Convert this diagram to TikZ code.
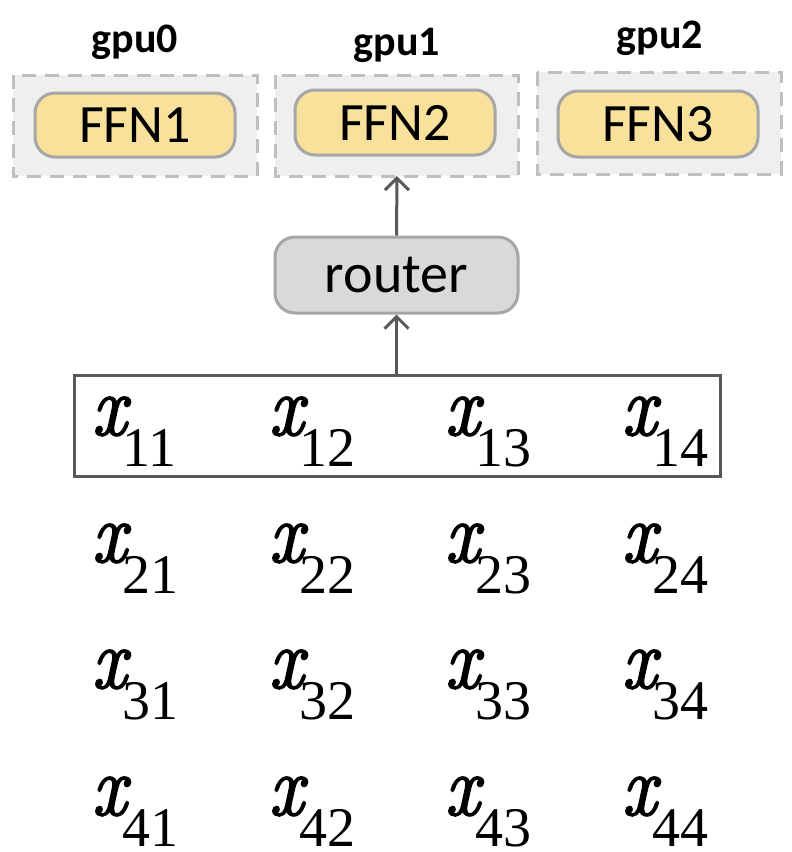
\documentclass[tikz,border=0pt]{standalone}
\usepackage{fontspec}
\setmainfont{Liberation Serif}
\newfontfamily\calib{Carlito}
\newfontfamily\lmr[FakeBold=2.2,FakeStretch=0.88]{Latin Modern Roman}
\usetikzlibrary{arrows.meta}
\definecolor{gpufill}{HTML}{EFEFEF}
\definecolor{gpuline}{HTML}{BFBFBF}
\definecolor{ffnfill}{HTML}{F8E29B}
\definecolor{boxline}{HTML}{A6A6A6}
\definecolor{routerfill}{HTML}{D9D9D9}
\definecolor{darkline}{HTML}{595959}
\newcommand{\xent}[2]{{\lmr\itshape\fontsize{86}{86}\selectfont x}\kern-4pt\raisebox{-31pt}{\fontsize{56}{56}\selectfont #1#2}}
\tikzset{
  gpubox/.style={draw=gpuline, fill=gpufill, line width=3pt, dash pattern=on 14pt off 9pt},
  ffnbox/.style={draw=boxline, fill=ffnfill, line width=3pt, rounded corners=20pt},
  routerbox/.style={draw=boxline, fill=routerfill, line width=3pt, rounded corners=20pt},
  gpulabel/.style={font=\calib\bfseries\fontsize{42}{42}\selectfont},
  ffnlabel/.style={font=\calib\fontsize{54}{54}\selectfont},
  conn/.style={draw=darkline, line width=3pt, -{Straight Barb[length=12pt,width=24pt,line width=3pt]}},
  entry/.style={anchor=base west, inner sep=0pt}
}
\begin{document}
\begin{tikzpicture}[x=1pt,y=-1pt]
\useasboundingbox (0,0) rectangle (792,852);
% gpu containers
\draw[gpubox] (13,75) rectangle (257,176);
\draw[gpubox] (275,75) rectangle (518,176);
\draw[gpubox] (537,72) rectangle (781,174);
\coordinate (g1b) at (397,176);
% FFN boxes
\draw[ffnbox] (35,93) rectangle (235,157);
\draw[ffnbox] (295,90) rectangle (495,155);
\draw[ffnbox] (558,91) rectangle (758,157);
\node[ffnlabel] (ffn1) at (135,125) {FFN1};
\node[ffnlabel] (ffn2) at (395,122.5) {FFN2};
\node[ffnlabel] (ffn3) at (658,124) {FFN3};
% gpu labels
\node[gpulabel] (gpu0) at (135,42) {gpu0};
\node[gpulabel] (gpu1) at (397,45) {gpu1};
\node[gpulabel] (gpu2) at (660,38) {gpu2};
% router
\node[routerbox, minimum width=243pt, minimum height=76pt, font=\calib\fontsize{56}{56}\selectfont, inner sep=0pt] (router) at (396.5,275) {router};
% row box
\node[draw=darkline, line width=3pt, minimum width=646pt, minimum height=101pt, inner sep=0pt] (row1) at (397,425.5) {};
% arrows
\draw[conn] (row1.north -| router) -- (router.south);
\draw[conn] (router.north) -- (g1b);
% entries
\foreach \r/\yb in {1/435,2/562,3/688,4/815}{
  \foreach \c/\xl in {1/92,2/269,3/445,4/622}{
    \node[entry] (x\r\c) at (\xl,\yb) {\xent{\r}{\c}};
  }
}
\end{tikzpicture}
\end{document}
